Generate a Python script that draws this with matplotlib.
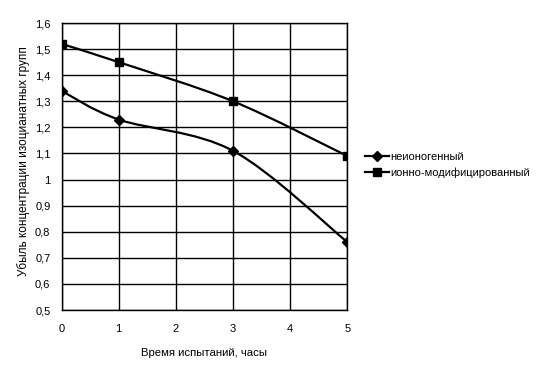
import numpy as np
import matplotlib
matplotlib.use('Agg')
import matplotlib.pyplot as plt
from matplotlib.path import Path
from matplotlib.patches import PathPatch
from matplotlib.lines import Line2D
from matplotlib.ticker import FuncFormatter

plt.rcParams['font.family'] = ['Liberation Sans', 'DejaVu Sans']

hours = [0, 1, 3, 5]
nonionic = [1.34, 1.23, 1.11, 0.76]
ion_modified = [1.52, 1.45, 1.30, 1.09]
labels = ['неионогенный', 'ионно-модифицированный']


def smooth_path(x, y):
    # сглаженная линия как в Excel (Catmull-Rom -> Bezier)
    pts = np.column_stack([x, y]).astype(float)
    verts = [pts[0]]
    codes = [Path.MOVETO]
    n = len(pts)
    for i in range(n - 1):
        p0 = pts[i - 1] if i > 0 else pts[i]
        p1 = pts[i]
        p2 = pts[i + 1]
        p3 = pts[i + 2] if i + 2 < n else pts[i + 1]
        c1 = p1 + (p2 - p0) / 6
        c2 = p2 - (p3 - p1) / 6
        verts += [c1, c2, p2]
        codes += [Path.CURVE4] * 3
    return Path(verts, codes)


fig = plt.figure(figsize=(5.42, 3.71), dpi=100)
ax = fig.add_axes([0.1135, 0.1644, 0.5275, 0.7736])

series = [(nonionic, 'D', 5), (ion_modified, 's', 6)]
for (vals, mk, ms), lab in zip(series, labels):
    ax.add_patch(PathPatch(smooth_path(hours, vals), fill=False, lw=1.6,
                           edgecolor='black', zorder=3))
    ax.plot(hours, vals, ls='none', marker=mk, ms=ms, color='black', zorder=4)

ax.set_xlim(0, 5)
ax.set_ylim(0.5, 1.6)
ax.set_xticks(range(6))
ax.set_yticks(np.arange(0.5, 1.61, 0.1))
ax.yaxis.set_major_formatter(FuncFormatter(lambda v, p: f'{round(v, 1):g}'.replace('.', ',')))
ax.tick_params(length=0, labelsize=8, pad=10)
ax.tick_params(axis='y', pad=8)
ax.grid(color='black', lw=1)
for s in ax.spines.values():
    s.set_linewidth(1)
ax.set_axisbelow(True)

ax.set_xlabel('Время испытаний, часы', fontsize=8.2, labelpad=10)
ax.set_ylabel('Убыль концентрации изоцианатных групп', fontsize=8.5)
ax.yaxis.set_label_coords(-0.11, 0.52)

handles = [Line2D([], [], color='black', lw=1.6, marker='D', ms=5),
           Line2D([], [], color='black', lw=1.6, marker='s', ms=6)]
fig.legend(handles, labels, loc='center left', bbox_to_anchor=(0.655, 0.555),
           frameon=False, fontsize=8, handlelength=2.2, handletextpad=0.1,
           labelspacing=0.45)

fig.savefig('out.png', dpi=100)
